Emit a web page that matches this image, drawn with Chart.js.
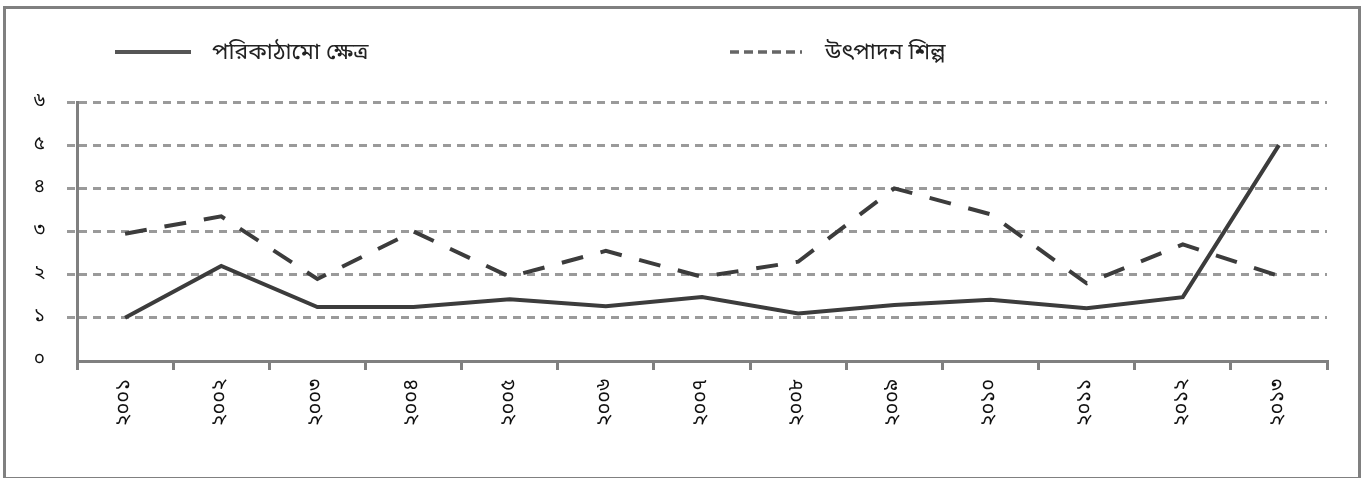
<!DOCTYPE html>
<html>
<head>
<meta charset="utf-8">
<script src="https://cdn.jsdelivr.net/npm/chart.js@4/dist/chart.umd.min.js"></script>
<style>
  body { margin: 0; background: #fff; font-family: "Noto Sans Bengali", "Lohit Bengali", "Noto Sans", sans-serif; }
  #frame { position: absolute; left: 3px; top: 6px; width: 1352px; height: 468px; border: 3px solid #808080; }
  #wrap { position: absolute; left: 0; top: 0; width: 1372px; height: 478px; }
  .leg { position: absolute; top: 36px; font-size: 23px; color: #222; line-height: 32px; }
  .leg svg { position: absolute; }
</style>
</head>
<body>
<div id="frame"></div>
<div id="wrap"><canvas id="myChart" width="1372" height="478"></canvas></div>
<div class="leg" style="left:115px;">
  <svg width="80" height="32" style="left:0;top:0;"><line x1="0" y1="16" x2="76" y2="16" stroke="#555" stroke-width="4"/></svg>
  <span style="position:absolute;left:97px;top:1px;white-space:nowrap;">পরিকাঠামো ক্ষেত্র</span>
</div>
<div class="leg" style="left:730px;">
  <svg width="80" height="32" style="left:0;top:0;"><line x1="0" y1="16" x2="72" y2="16" stroke="#666" stroke-width="3.5" stroke-dasharray="9,5"/></svg>
  <span style="position:absolute;left:95px;top:1px;white-space:nowrap;">উৎপাদন শিল্প</span>
</div>
<script>
const years = ['২০০১', '২০০২', '২০০৩', '২০০৪', '২০০৫', '২০০৬', '২০০৭', '২০০৮', '২০০৯', '২০১০', '২০১১', '২০১২', '২০১৩'];
const infrastructure = [1.0, 2.2, 1.25, 1.25, 1.43, 1.27, 1.48, 1.1, 1.3, 1.42, 1.22, 1.48, 5.0];
const manufacturing = [2.95, 3.35, 1.9, 3.0, 1.95, 2.55, 1.95, 2.3, 4.0, 3.4, 1.8, 2.7, 1.97];
const yLabels = ['০', '১', '২', '৩', '৪', '৫', '৬'];

const bnFont = '"Noto Sans Bengali", "Lohit Bengali", "Noto Sans", sans-serif';

window.renderChart = () => {
    const ctx = document.getElementById('myChart').getContext('2d');
    window.myChartInstance = new Chart(ctx, {
        type: 'line',
        data: {
            labels: years,
            datasets: [{
                label: 'পরিকাঠামো ক্ষেত্র',
                data: infrastructure,
                borderColor: '#3c3c3c',
                borderWidth: 4,
                pointRadius: 0,
                tension: 0
            }, {
                label: 'উৎপাদন শিল্প',
                data: manufacturing,
                borderColor: '#3c3c3c',
                borderWidth: 4,
                borderDash: [22, 18],
                pointRadius: 0,
                tension: 0
            }]
        },
        options: {
            responsive: false,
            animation: false,
            layout: { padding: { left: 0, right: 45, top: 102, bottom: 0 } },
            plugins: { legend: { display: false }, tooltip: { enabled: false } },
            scales: {
                x: {
                    offset: true,
                    afterFit: (scale) => { scale.height = 117; },
                    grid: {
                        offset: true,
                        drawOnChartArea: false,
                        drawTicks: true,
                        tickLength: 9,
                        color: '#808080',
                        lineWidth: 3
                    },
                    border: { display: true, color: '#808080', width: 3 },
                    ticks: {
                        minRotation: 90,
                        maxRotation: 90,
                        padding: 9,
                        color: '#111',
                        font: { family: bnFont, size: 20 }
                    }
                },
                y: {
                    min: 0,
                    max: 6,
                    afterFit: (scale) => { scale.width = 77; },
                    grid: {
                        color: (c) => c.tick && c.tick.value === 0 ? 'rgba(0,0,0,0)' : '#9a9a9a',
                        lineWidth: 3,
                        tickLength: 10,
                        tickBorderDash: [8, 6]
                    },
                    border: { display: true, color: '#808080', width: 3, dash: [8, 6] },
                    ticks: {
                        stepSize: 1,
                        padding: 22,
                        color: '#111',
                        font: { family: bnFont, size: 19 },
                        callback: (v) => yLabels[v]
                    }
                }
            }
        }
    });
};

window.renderChart();
</script>
</body>
</html>
